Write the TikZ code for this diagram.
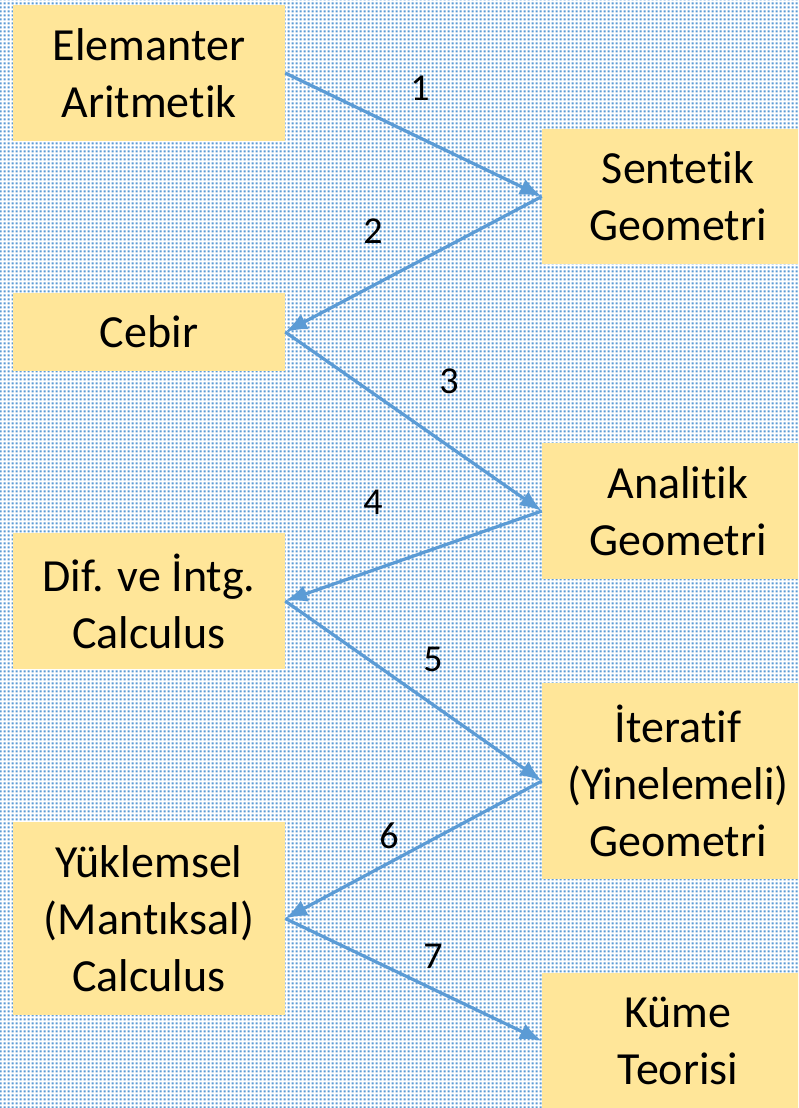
\documentclass[tikz,border=0pt]{standalone}
\usepackage{fontspec}
\setmainfont{Carlito}[Ligatures=NoCommon]
\usetikzlibrary{arrows.meta,patterns.meta}
\definecolor{dotblue}{HTML}{5B9BD5}
\definecolor{boxfill}{HTML}{FFE699}
\definecolor{arrblue}{HTML}{5B9BD5}
\tikzdeclarepattern{
  name=bgdots,
  type=colored,
  bottom left={(0pt,0pt)},
  top right={(4pt,4pt)},
  tile size={(4pt,4pt)},
  code={\fill[dotblue] (0.7pt,0.7pt) rectangle (3.3pt,3.3pt);}
}
\tikzset{
  box/.style={rectangle, fill=boxfill, inner sep=0pt, minimum width=272pt,
    align=center, font=\fontsize{46}{57}\selectfont, text=black},
  arr/.style={draw=arrblue, line width=3.2pt, -{Latex[length=22pt,width=17pt]}},
  num/.style={font=\fontsize{38}{44}\selectfont, text=black, inner sep=0pt}
}
\begin{document}
\begin{tikzpicture}[x=1pt,y=-1pt]
\useasboundingbox (0,0) rectangle (798,1108);
\clip (0,0) rectangle (798,1108);
\fill[white] (0,0) rectangle (798,1108);
\fill[pattern=bgdots] (0,0) rectangle (798,1108);
\node[box, minimum height=136pt] (b1) at (149,73) {Elemanter\\Aritmetik};
\node[box, minimum height=135pt] (b2) at (678,196.5) {Sentetik\\Geometri};
\node[box, minimum height=78pt] (b3) at (149,332) {Cebir};
\node[box, minimum height=136pt] (b4) at (678,511) {Analitik\\Geometri};
\node[box, minimum height=136pt] (b5) at (149,601) {Dif. ve İntg.\\Calculus};
\node[box, minimum height=196pt] (b6) at (678,781) {İteratif\\(Yinelemeli)\\Geometri};
\node[box, minimum height=193pt] (b7) at (149,918.5) {Yüklemsel\\(Mantıksal)\\Calculus};
\node[box, minimum height=136pt] (b8) at (678,1041) {Küme\\Teorisi};
\draw[arr] (b1.east) -- (b2.west);
\draw[arr] (b2.west) -- (b3.east);
\draw[arr] (b3.east) -- (b4.west);
\draw[arr] (b4.west) -- (b5.east);
\draw[arr] (b5.east) -- (b6.west);
\draw[arr] (b6.west) -- (b7.east);
\draw[arr] (b7.east) -- (b8.west);
\node[num] (n1) at (420,88) {1};
\node[num] (n2) at (373,231) {2};
\node[num] (n3) at (449,381) {3};
\node[num] (n4) at (373,502) {4};
\node[num] (n5) at (433,659) {5};
\node[num] (n6) at (389,836) {6};
\node[num] (n7) at (433,956) {7};
\end{tikzpicture}
\end{document}
